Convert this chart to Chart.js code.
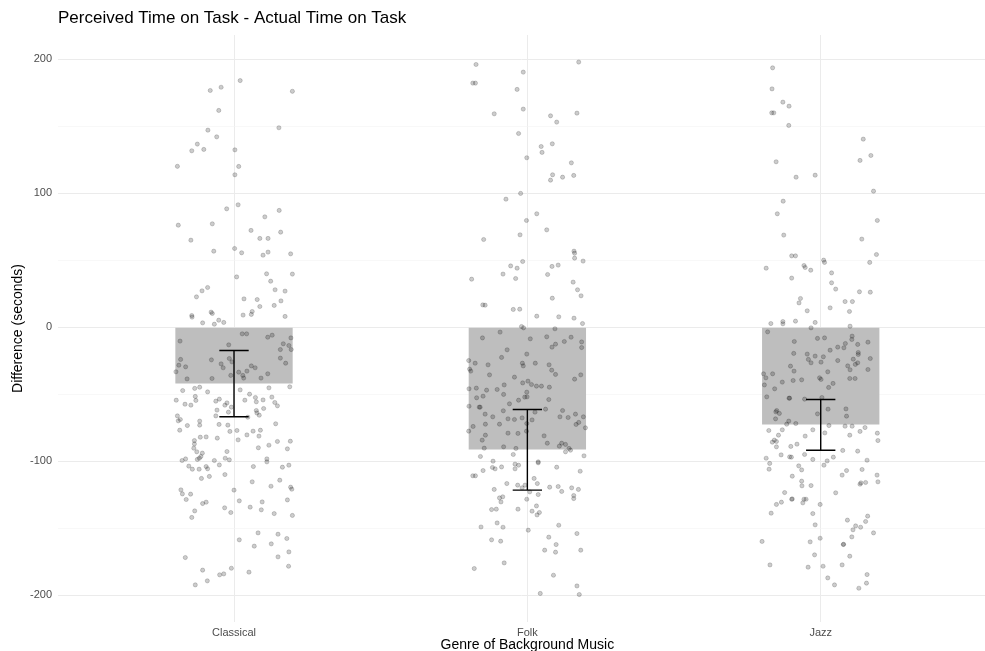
<!DOCTYPE html>
<html><head><meta charset="utf-8">
<script src="https://cdn.jsdelivr.net/npm/chart.js@4"></script>
<style>html,body{margin:0;padding:0;background:#fff;} canvas{display:block;}</style>
</head><body>
<canvas id="c" width="985" height="651"></canvas>
<script>
const categories = ['Classical', 'Folk', 'Jazz'];
const meanDiff = [-42.0, -91.3, -72.6];
const errLower = [-66.9, -121.6, -91.8];
const errUpper = [-17.4, -61.4, -54.0];
const yTickValues = [-200, -150, -100, -50, 0, 50, 100, 150, 200];
const yLabelValues = [-200, -100, 0, 100, 200];
const titleText = 'Perceived Time on Task - Actual Time on Task';
const xTitleText = 'Genre of Background Music';
const yTitleText = 'Difference (seconds)';

// [jitter offset from category, difference in seconds]
const classicalPoints = [
[0.021,184],[-0.044,179],[-0.081,176.6],[0.199,176],[-0.052,161.7],[-0.089,147],[0.153,148.8],[-0.059,142],[-0.125,136.6],[-0.103,132.6],[-0.144,131.6],[0.003,132.3],[-0.193,120],[0.016,119.9],[0.003,113.7],
[0.014,91.3],[-0.025,88.3],[0.154,87.1],[0.105,82.3],[-0.19,76.1],[-0.074,77.1],[0.058,72.2],[0.159,70.9],[-0.147,64.9],[0.088,66.2],[0.116,66.2],[-0.069,56.7],[0.002,58.7],[0.026,55.5],[0.099,53.7],[0.116,56],[0.193,54.7],[0.111,39.8],[0.199,39.6],[0.009,37.5],[0.125,34.3],[-0.09,29.6],[-0.109,27.1],[0.14,27.9],[0.174,26.9],[-0.128,22.6],[0.034,21.1],[0.079,20.6],[0.16,19.6],[0.088,15.4],[0.137,16.2],[-0.078,11.2],[-0.074,10.2],[0.062,11.7],[-0.144,8.7],[-0.143,7.5],[0.031,9],[0.059,9.5],[0.174,8],[-0.052,5.2],[-0.107,3.2],[-0.067,2.2],[-0.035,3.5],
[-0.184,-10.4],[0.028,-5],[0.043,-5],[0.13,-6],[0.115,-7.5],[0.194,-8],[0.168,-12.4],[-0.018,-13.2],[0.187,-13.7],[0.195,-16.7],[0.158,-16.7],[-0.182,-24.1],[-0.077,-24.4],[-0.016,-23.4],[-0.007,-25.9],[0.158,-23.1],[-0.044,-27.4],[-0.188,-28.4],[-0.165,-29.6],[0.176,-26.9],[-0.037,-30.3],[0.059,-28.9],[0.072,-30.3],[-0.198,-33.3],[0.016,-33.6],[0.044,-32.8],[0.03,-36],[0.033,-38],[-0.011,-36],[0.115,-34.8],[0.092,-38],[-0.16,-38.6],[-0.075,-38.3],
[-0.117,-44.8],[-0.134,-45.7],[-0.175,-47.3],[-0.09,-48.3],[0.021,-46.8],[0.119,-45.3],[0.19,-44.5],[-0.132,-51.7],[0.053,-50],[0.073,-52.5],[0.129,-52.2],[-0.197,-54.5],[-0.05,-53.7],[-0.062,-55.2],[0.037,-54.5],[0.076,-55.7],[0.099,-54.3],[-0.13,-54.7],[0.139,-56.2],[-0.167,-57.5],[-0.147,-58.2],[-0.024,-56.5],[-0.031,-58.2],[-0.009,-59.7],[0.101,-60.7],[0.148,-58.7],[-0.058,-61.9],[-0.019,-63.4],[0.076,-62.2],[0.078,-64],[0.086,-65.7],[-0.193,-66.2],[-0.062,-66.2],[0.047,-67.2],[-0.183,-68.9],[-0.19,-69.9],[-0.117,-70.1],[-0.117,-73.1],[-0.159,-73.4],[-0.051,-72.6],[-0.021,-73.1],[0.142,-72.1],[-0.185,-76.9],[0.01,-77.1],[-0.014,-77.8],[0.065,-77.6],[0.09,-76.9],[0.044,-80.4],[0.085,-81.3],[-0.115,-82.1],[-0.095,-81.9],[-0.057,-82.8],[0.014,-84.1],[0.192,-85.1],[0.148,-85.3],[-0.135,-84.6],[-0.135,-87.1],[0.083,-90],[-0.137,-90.3],[0.119,-88.1],[0.182,-90.8],[-0.127,-93],[-0.108,-94],[-0.024,-92.8],[-0.113,-96.5],[-0.03,-97.8],[-0.177,-99.5],[-0.165,-98.3],[-0.125,-98.7],[-0.118,-97.8],[-0.067,-99.5],[-0.016,-99],[0.112,-98.3],[0.112,-100.5],[-0.154,-103.7],[-0.05,-102.8],[-0.095,-104],[-0.09,-105.7],[0.066,-104],[0.165,-104.5],[0.187,-103],[-0.142,-106],[-0.119,-106],
[-0.031,-110],[-0.111,-112.9],[-0.084,-111.4],[0.062,-115.4],[0.156,-114.2],[0.126,-118.7],[0.193,-119.4],[0.197,-120.9],[-0.181,-121.4],[-0.176,-124.4],[-0.148,-124.6],[0,-121.6],[-0.163,-128.6],[0.018,-129.6],[-0.107,-131.6],[-0.095,-130.6],[0.096,-130.4],[0.182,-128.9],[-0.032,-134.8],[0.055,-134.3],[0.093,-136.3],[-0.134,-137.1],[-0.011,-138.3],[0.137,-139.1],[0.199,-140.5],[-0.144,-142],[0.082,-153.5],[0.15,-154.5],[0.18,-157.7],[0.018,-158.7],[0.127,-161.7],[0.069,-163.4],[0.187,-167.7],[-0.166,-171.9],[0.15,-171.4],[0.186,-178.4],[-0.009,-179.9],[-0.107,-181.3],[0.051,-182.8],[-0.049,-184.8],[-0.035,-184.1],[-0.091,-189.3],[-0.132,-192.3]
];
const folkPoints = [
[-0.175,196],[0.175,197.8],[-0.014,190.3],[-0.186,182.1],[-0.177,182.1],[-0.035,177.4],[-0.113,159.2],[-0.014,162.7],[0.079,157.7],[0.169,159.7],[0.1,153],[-0.03,144.5],[0.085,136.8],[0.047,134.8],[0.05,130.4],[-0.002,126.4],[0.15,122.6],[0.086,113.7],[0.158,113.2],[0.12,111.9],[0.079,109.7],
[-0.023,99.8],[-0.073,95.5],[0.032,84.6],[-0.003,79.6],[0.066,72.6],[-0.025,68.9],[-0.149,65.4],[0.159,56.7],[0.161,55.2],[0.161,51.5],[0.19,49.3],[-0.016,49],[-0.057,45.7],[-0.035,44],[0.084,45.3],[0.105,46.3],[-0.083,39.6],[0.069,39.3],[-0.19,35.8],[-0.04,36.3],[0.156,33.6],[0.171,27.9],[0.183,23.4],[0.085,21.6],[-0.152,16.6],[-0.144,16.4],[-0.048,13.2],[-0.026,13.4],[0.032,8.2],[0.107,7.7],[0.159,6.7],[0.188,2.7],[-0.02,0.5],[-0.013,-0.5],[0.094,-1.2],
[-0.093,-3.7],[-0.153,-8],[0.01,-8.7],[0.066,-7.2],[0.149,-7.5],[0.096,-12.7],[0.084,-14.9],[0.126,-10.7],[0.185,-11],[0.185,-15.2],[-0.069,-16.9],[-0.002,-20.1],[-0.088,-22.6],[-0.2,-24.9],[-0.178,-26.9],[-0.134,-28.1],[-0.017,-26.9],[-0.014,-28.9],[0.027,-26.9],[0.074,-28.1],[-0.197,-31.3],[-0.193,-32.8],[0.083,-32.1],[0.096,-35.3],[-0.129,-35.6],[0.182,-35.6],[-0.044,-37.3],[0.161,-38.8],[0.002,-40.3],[-0.016,-41.6],[0.014,-42.8],[-0.079,-43.1],[0.031,-44],[0.048,-44],[0.075,-44.8],[-0.199,-46],[-0.174,-45.5],[-0.139,-47],[-0.103,-46.5],[-0.002,-48.5],[-0.081,-50.2],[-0.173,-52.7],[-0.151,-51.5],[-0.009,-52.2],[-0.001,-52],[-0.03,-54.5],[0.073,-54],[-0.061,-57.2],[-0.199,-59],[-0.164,-59.7],[-0.161,-59.7],[-0.082,-62.4],[0.026,-63.4],[0.062,-61.2],[0.12,-62.2],[0.164,-64.9],[-0.144,-64.9],[-0.118,-66.9],[0.111,-66.9],[0.139,-67.4],[0.191,-66.9],[-0.066,-68.4],[-0.044,-68.9],[-0.018,-67.7],[0.016,-69.2],[-0.002,-71.9],[-0.095,-72.4],[-0.143,-72.4],[0.166,-72.6],[0.175,-71.1],[-0.185,-74.1],[0.198,-75.1],[-0.2,-77.6],[-0.003,-77.6],[-0.066,-79.1],[-0.032,-79.3],[-0.143,-80.6],[0.057,-81.1],[-0.154,-84.3],[0.068,-86.6],[0.117,-86.6],[0.13,-87.5],[0.109,-88.8],[-0.147,-90.3],[-0.081,-89.3],[-0.039,-90.5],[0.142,-90.5],[0.147,-91.8],[0.13,-93],[-0.048,-95],[-0.16,-96.5],[0.193,-96],[-0.117,-100],[-0.042,-102.2],[-0.03,-103],[0.037,-100.5],[0.037,-101.2],[-0.088,-104.3],[-0.119,-104.7],[-0.11,-105.7],[-0.042,-105.7],[0.1,-104.5],[-0.151,-107],[0.18,-107.5],
[-0.186,-110.9],[-0.177,-110.9],[0.023,-112.9],[-0.07,-116.7],[-0.033,-117.9],[-0.018,-119.9],[-0.008,-117.9],[0.034,-116.7],[0.076,-119.4],[0.105,-118.9],[0.151,-119.9],[0.174,-121.1],[-0.113,-121.1],[0.008,-122.9],[0.117,-122.6],[0.037,-124.9],[-0.084,-126.6],[-0.095,-127.4],[0.158,-125.6],[0.158,-127.9],[-0.002,-128.4],[-0.09,-130.4],[0.031,-133.4],[-0.122,-136.1],[-0.106,-135.8],[-0.032,-135.8],[0.016,-137.3],[0.041,-138.3],[0.033,-140.1],[-0.103,-146.1],[-0.158,-149.1],[-0.083,-149.3],[0.107,-147.8],[0.003,-151.5],[0.169,-154],[0.073,-156.7],[-0.122,-158.7],[-0.091,-159.7],[0.098,-162.2],[0.059,-166.4],[0.096,-167.9],[0.182,-166.4],[-0.079,-175.9],[-0.181,-180.1],[0.089,-185.1],[0.169,-193.1],[0.044,-198.7],[0.177,-199.5]
];
const jazzPoints = [
[-0.164,193.5],[-0.166,177.8],[-0.129,167.9],[-0.108,164.9],[-0.167,159.9],[-0.16,159.9],[-0.109,150.5],[0.145,140.3],[0.171,128.1],[0.134,124.4],[-0.152,123.4],[-0.019,113.4],[-0.084,111.9],[0.18,101.5],
[-0.128,94],[-0.148,84.6],[0.193,79.6],[-0.126,68.7],[0.14,65.7],[-0.099,53.2],[-0.086,53.2],[0.19,54.2],[0.01,50],[0.013,48.3],[0.167,48.3],[-0.186,44],[-0.057,46],[-0.053,44.5],[-0.034,42.5],[0.037,40.5],[-0.099,36.6],[0.037,33.1],[0.051,28.4],[0.132,26.4],[0.169,26.1],[-0.069,21.4],[-0.074,18.1],[0.083,19.1],[0.108,19.1],[0.032,14.4],[-0.046,12.2],[0.098,11.7],[-0.17,2.7],[-0.129,4.2],[-0.129,2.5],[-0.086,4.5],[-0.019,3.5],[0.1,0.7],[-0.033,-0.5],
[-0.181,-3.5],[-0.011,-8.4],[0.013,-8],[0.107,-6.7],[0.106,-9.2],[-0.09,-10.7],[0.161,-11.2],[0.084,-12.2],[0.126,-12.9],[0.058,-14.9],[0.079,-15.4],[0.032,-17.2],[-0.092,-19.6],[-0.046,-20.1],[0.128,-18.9],[0.128,-20.4],[-0.019,-21.6],[0.009,-22.1],[-0.042,-24.1],[-0.033,-26.6],[0.001,-26.1],[0.058,-24.9],[0.111,-23.9],[0.169,-23.4],[0.126,-26.6],[0.118,-27.8],[-0.103,-29.1],[0.092,-28.9],[0.1,-31.8],[-0.091,-32.8],[0.161,-31.6],[0.024,-33.3],[-0.195,-34.8],[-0.164,-34.8],[-0.187,-37.8],[-0.004,-37.8],[0.001,-39],[-0.094,-39.8],[-0.065,-39.3],[0.099,-38.3],[0.117,-38.3],[-0.131,-41],[0.042,-42],[-0.192,-43.1],[0.027,-45],[-0.157,-46],[-0.184,-52],[-0.108,-53],[-0.106,-53],[-0.055,-53.7],[0.004,-52.5],[-0.15,-62.2],[-0.141,-64.4],[-0.153,-63.2],[0.025,-61.2],[0.086,-61],[-0.011,-64.7],[0.088,-66.4],[-0.154,-68.4],[-0.109,-70.1],[-0.085,-71.9],[-0.116,-72.4],[0.028,-73.4],[0.083,-73.9],[0.107,-73.9],[0.151,-74.9],[-0.177,-77.1],[-0.131,-76.6],[-0.027,-76.6],[0.134,-77.8],[0.193,-79.1],[0.014,-78.9],[0.099,-80.6],[-0.053,-81.3],[-0.144,-80.6],[0.195,-84.6],[-0.165,-85.8],[-0.151,-85.3],[-0.158,-84.3],[-0.081,-87.3],[-0.151,-89.3],[-0.102,-89],[0.075,-92],[0.126,-92.5],[-0.055,-95],[-0.135,-95.3],[-0.106,-96.8],[-0.1,-97],[-0.186,-97.8],[-0.027,-98.7],[0.043,-97],[0.022,-99.8],[0.158,-99.3],[-0.174,-101.7],[-0.075,-103.5],[0.011,-103],[-0.176,-106],[-0.065,-106.5],[0.088,-107],[0.141,-106.2],
[-0.097,-111.2],[0.073,-110.4],[0.192,-110.4],[-0.065,-114.9],[-0.064,-118.4],[-0.033,-118.2],[0.134,-117.2],[0.137,-116.2],[0.153,-115.9],[0.195,-115.4],[-0.123,-123.4],[0.051,-123.6],[-0.099,-128.4],[-0.097,-128.2],[-0.057,-128.4],[-0.05,-128.4],[-0.134,-130.6],[-0.151,-132.3],[-0.061,-131.1],[-0.002,-132.3],[-0.169,-138.8],[-0.027,-139.1],[0.16,-141],[0.091,-144],[0.153,-145],[-0.019,-147.5],[0.119,-148.3],[0.136,-149.3],[0.11,-151.2],[0.18,-153.5],[0.106,-156.5],[-0.002,-157.5],[-0.2,-159.9],[-0.036,-160.2],[0.077,-162.2],[0.078,-162.0],[-0.021,-169.9],[0.099,-170.9],[-0.173,-177.4],[-0.043,-179.1],[0.008,-178.4],[0.073,-177.4],[0.158,-184.6],[0.024,-187.1],[0.156,-191],[0.047,-192.3],[0.13,-194.8]
];

const FONT = '"Liberation Sans", Arial, Helvetica, sans-serif';
const groups = [classicalPoints, folkPoints, jazzPoints];
const scatterData = [];
groups.forEach((g, i) => g.forEach(p => scatterData.push({ x: i + 1 + p[0], y: p[1] })));
const barData = categories.map((c, i) => ({ x: i + 1, y: meanDiff[i] }));
const ERR_HALF_WIDTH = 0.05;

const overlay = {
  id: 'overlay',
  afterDatasetsDraw(chart) {
    const { ctx, scales: { x, y } } = chart;
    ctx.save();
    ctx.strokeStyle = '#000';
    ctx.lineWidth = 1.4;
    categories.forEach((c, i) => {
      const cx = x.getPixelForValue(i + 1);
      const xl = x.getPixelForValue(i + 1 - ERR_HALF_WIDTH);
      const xr = x.getPixelForValue(i + 1 + ERR_HALF_WIDTH);
      const yl = y.getPixelForValue(errLower[i]);
      const yu = y.getPixelForValue(errUpper[i]);
      ctx.beginPath();
      ctx.moveTo(cx, yu); ctx.lineTo(cx, yl);
      ctx.moveTo(xl, yu); ctx.lineTo(xr, yu);
      ctx.moveTo(xl, yl); ctx.lineTo(xr, yl);
      ctx.stroke();
    });
    ctx.restore();
  },
  afterDraw(chart) {
    const { ctx, chartArea, scales: { x } } = chart;
    ctx.save();
    ctx.fillStyle = '#000';
    ctx.textBaseline = 'middle';
    ctx.font = '17px ' + FONT;
    ctx.textAlign = 'left';
    ctx.fillText(titleText, chartArea.left, 18);
    ctx.font = '14px ' + FONT;
    ctx.textAlign = 'center';
    ctx.fillText(xTitleText, x.getPixelForValue(2), 645);
    ctx.translate(18, (chartArea.top + chartArea.bottom) / 2);
    ctx.rotate(-Math.PI / 2);
    ctx.fillText(yTitleText, 0, 0);
    ctx.restore();
  }
};

new Chart(document.getElementById('c'), {
  type: 'scatter',
  data: {
    datasets: [
      { type: 'scatter', data: scatterData, backgroundColor: 'rgba(0,0,0,0.2)', borderColor: 'rgba(0,0,0,0.2)', borderWidth: 0.9, pointRadius: 2.1, order: 1 },
      { type: 'bar', data: barData, backgroundColor: '#bebebe', borderWidth: 0, categoryPercentage: 1, barPercentage: 0.4, order: 2 }
    ]
  },
  options: {
    responsive: false,
    animation: false,
    events: [],
    layout: { autoPadding: false, padding: { top: 35, left: 0, right: 0, bottom: 0 } },
    plugins: { legend: { display: false }, title: { display: false }, tooltip: { enabled: false } },
    scales: {
      x: {
        type: 'linear', min: 0.4, max: 3.56, offset: false,
        afterBuildTicks: s => { s.ticks = categories.map((c, i) => ({ value: i + 1 })); },
        afterFit: s => { s.height = 29; },
        ticks: { callback: v => categories[Math.round(v) - 1] || '', font: { family: FONT, size: 11 }, color: '#4d4d4d', padding: 4, maxRotation: 0, autoSkip: false },
        grid: { color: '#ebebeb', lineWidth: 1, drawTicks: false, offset: false },
        border: { display: false }
      },
      y: {
        type: 'linear', min: -220, max: 218,
        afterBuildTicks: s => { s.ticks = yTickValues.map(v => ({ value: v })); },
        afterFit: s => { s.width = 58; },
        ticks: { callback: v => yLabelValues.includes(v) ? String(v) : '', font: { family: FONT, size: 11 }, color: '#4d4d4d', padding: 6, autoSkip: false },
        grid: {
          color: c => (c.tick && yLabelValues.includes(c.tick.value)) ? '#ebebeb' : '#f3f3f3',
          lineWidth: c => (c.tick && yLabelValues.includes(c.tick.value)) ? 1 : 0.6,
          drawTicks: false
        },
        border: { display: false }
      }
    }
  },
  plugins: [overlay]
});
</script>
</body></html>
